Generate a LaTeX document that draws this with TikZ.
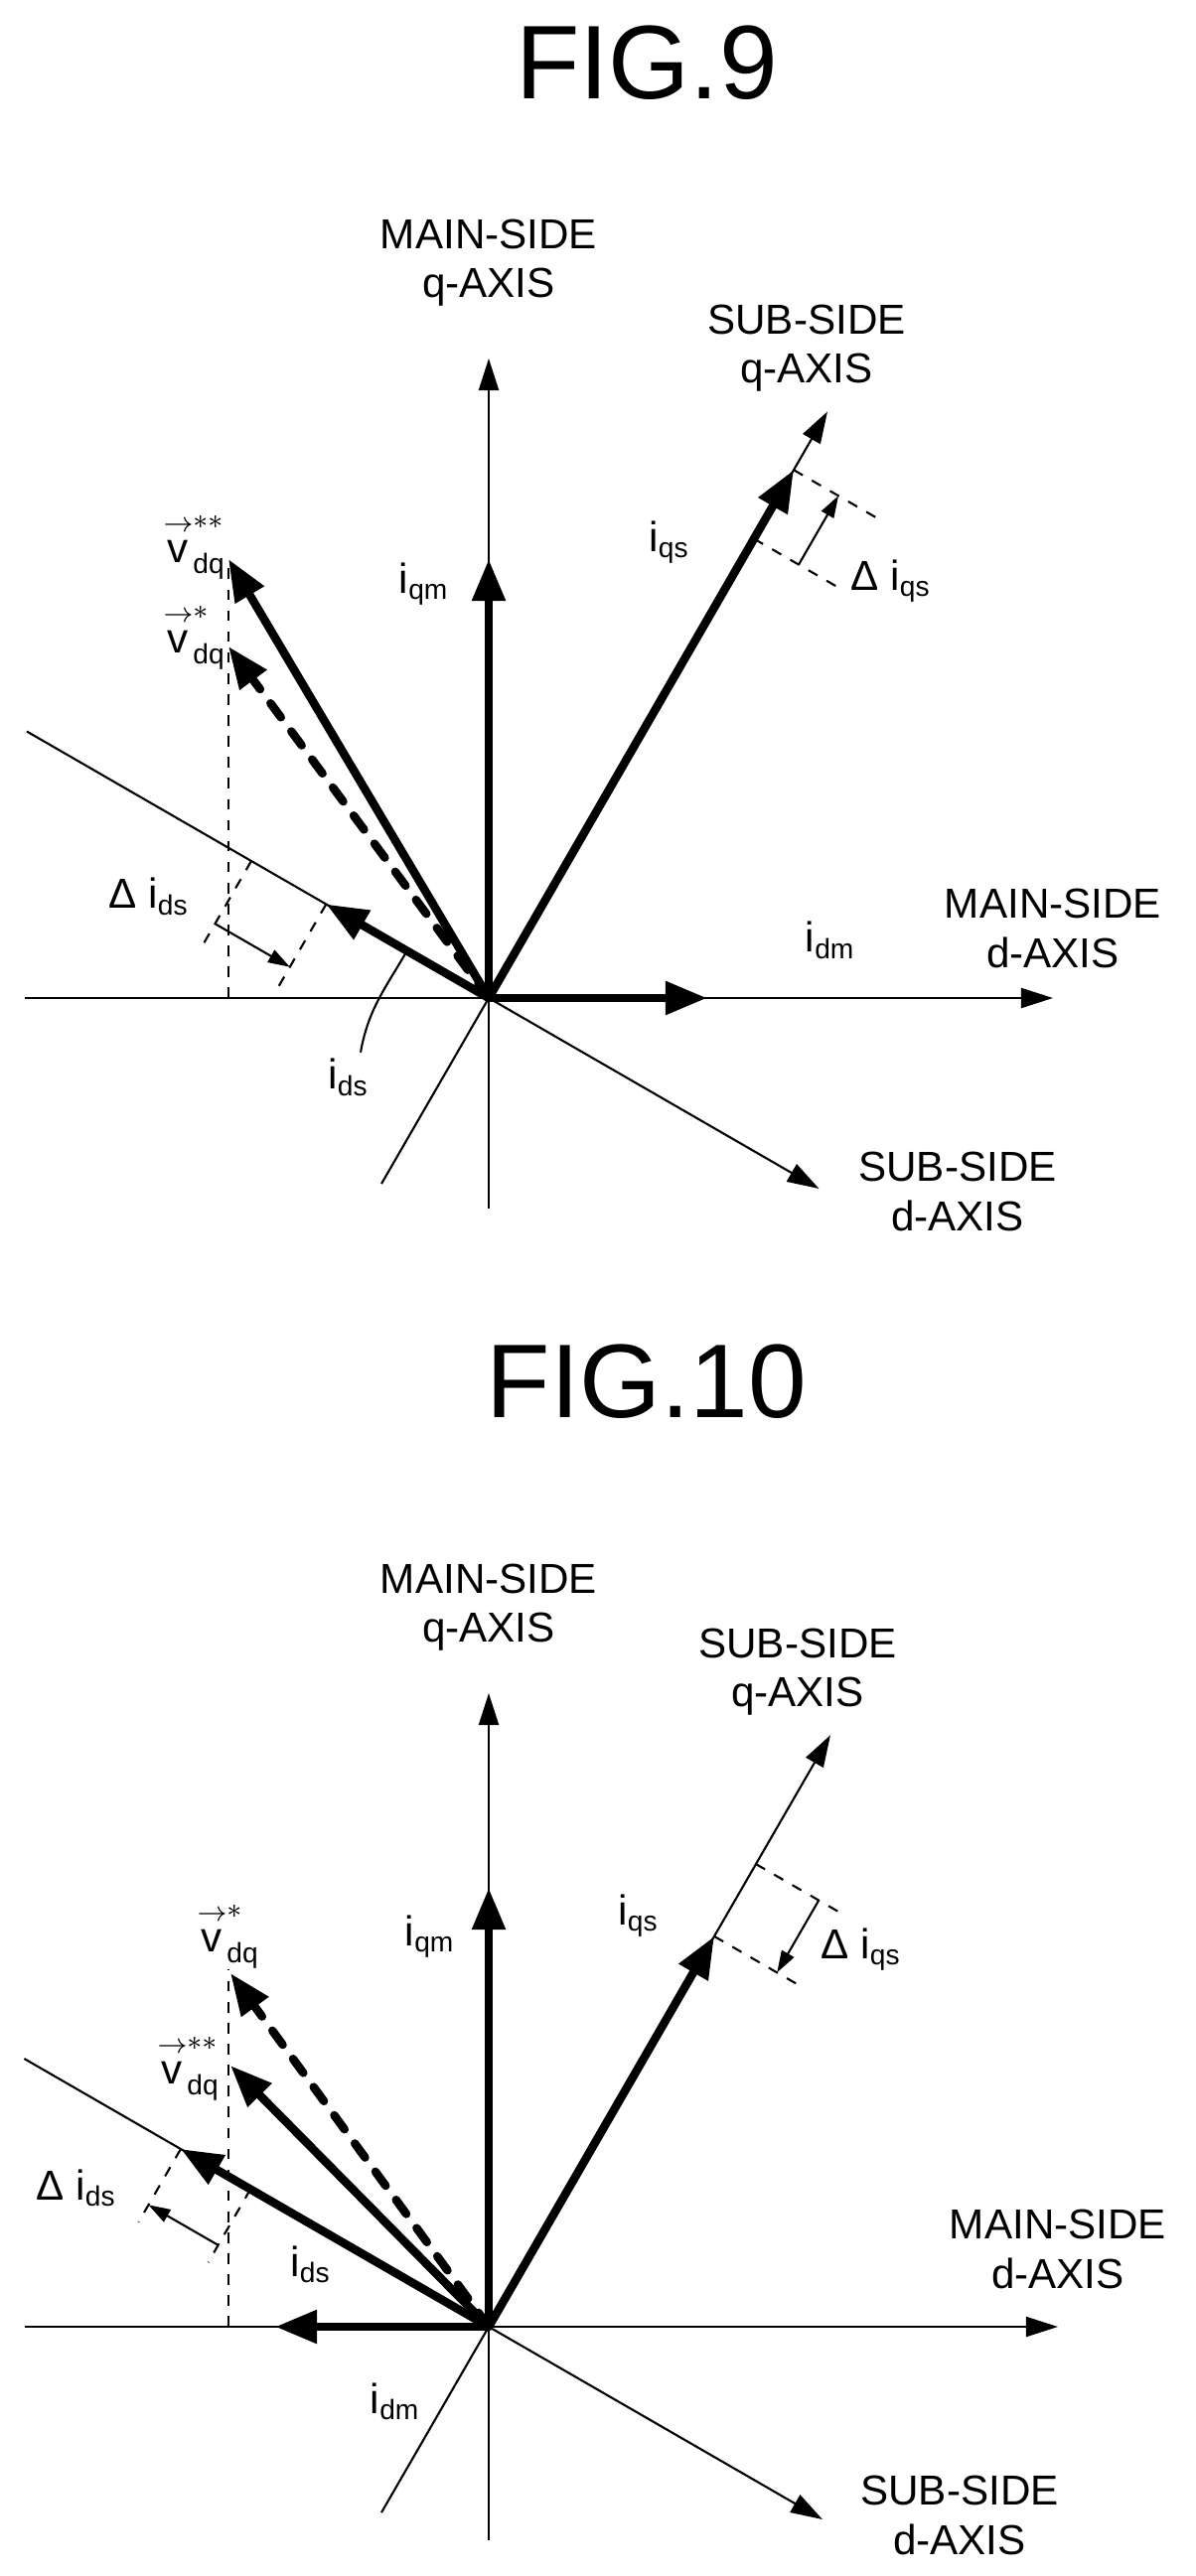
\documentclass[tikz,border=0pt]{standalone}
\usepackage{amsmath}
\usepackage{fontspec}
\setmainfont{Liberation Sans}
\usetikzlibrary{arrows.meta, positioning, calc}
\tikzstyle{axis} = [line width=0.6pt, -{Triangle[length=0.32cm, width=0.2cm]}]
\tikzstyle{plain} = [line width=0.6pt]
\tikzstyle{vec} = [line width=2.4pt, -{Triangle[length=0.42cm, width=0.32cm]}]
\tikzstyle{dvec} = [vec, dash pattern=on 5pt off 5pt, line cap=round]
\tikzstyle{guide} = [line width=0.6pt, dashed]
\tikzstyle{delta} = [line width=0.6pt, -{Triangle[length=0.22cm, width=0.14cm]}]
\tikzstyle{lbl} = [font=\fontsize{12}{14}\selectfont, align=center, inner sep=0pt]
\tikzstyle{title} = [font=\fontsize{30}{34}\selectfont, inner sep=0pt]
\newcommand{\vecv}{\ensuremath{\overset{\rightarrow}{\text{v}}}}
\begin{document}
\begin{tikzpicture}[x=0.01cm, y=0.01cm]
    \useasboundingbox (0,0) rectangle (1204,-2594);

    % FIG.9
    \node (fig9) [title] at (651,-63) {FIG.9};
    \begin{scope}[shift={(492,-1005)}]
    \coordinate (O) at (0,0);
    \coordinate (dml) at (-467,0);
    \coordinate (dmr) at (568,0);
    \coordinate (qmb) at (0,-212);
    \coordinate (qmt) at (0,644);
    \coordinate (qsb) at (240:216);
    \coordinate (qst) at (60:682);
    \coordinate (dsl) at (150:537);
    \coordinate (dsr) at (-30:384);
    \draw [plain] (dml) -- (O);
    \draw [axis] (O) -- (dmr);
    \draw [plain] (qmb) -- (O);
    \draw [axis] (O) -- (qmt);
    \draw [plain] (qsb) -- (O);
    \draw [axis] (O) -- (qst);
    \draw [plain] (dsl) -- (O);
    \draw [axis] (O) -- (dsr);

    \coordinate (iqm) at (0,442);
    \coordinate (idm) at (220,0);
    \coordinate (iqs) at (60:614);
    \coordinate (ids) at (150:189);
    \coordinate (vss) at (-262,442);
    \coordinate (vs) at (-262,354);
    \coordinate (vb) at (-262,0);
    \draw [guide] (vb) -- (vss);
    \draw [vec] (O) -- (iqm);
    \draw [vec] (O) -- (idm);
    \draw [vec] (O) -- (iqs);
    \draw [vec] (O) -- (ids);
    \draw [vec] (O) -- (vss);
    \draw [dvec] (O) -- (vs);

    % delta iqs
    \coordinate (qa) at (60:534);
    \coordinate (qae) at ($(qa)+(-30:98)$);
    \coordinate (qbe) at ($(iqs)+(-30:98)$);
    \draw [guide] (qa) -- (qae);
    \draw [guide] (iqs) -- (qbe);
    \draw [delta] ($(qa)+(-30:52)$) -- ($(iqs)+(-30:52)$);
    % delta ids
    \coordinate (da) at (150:276);
    \draw [guide] (da) -- ($(da)+(240:95)$);
    \draw [guide] (ids) -- ($(ids)+(240:95)$);
    \draw [delta] ($(da)+(240:73)$) -- ($(ids)+(240:73)$);

    \node (qml) [lbl] at (0,740) {MAIN-SIDE\\q-AXIS};
    \node (qsl) [lbl] at (320,654) {SUB-SIDE\\q-AXIS};
    \node (dml) [lbl] at (568,70) {MAIN-SIDE\\d-AXIS};
    \node (dsl) [lbl] at (472,-195) {SUB-SIDE\\d-AXIS};
    \node (iqmL) [lbl] at (-65,417) {i\textsubscript{qm}};
    \node (iqsL) [lbl] at (182,459) {i\textsubscript{qs}};
    \node (idmL) [lbl] at (344,58) {i\textsubscript{dm}};
    \node (idsL) [lbl] at (-141,-80) {i\textsubscript{ds}};
    \node (vssL) [lbl] at (-296,454) {$\vecv^{**}_{\text{dq}}$};
    \node (vsL) [lbl] at (-296,363) {$\vecv^{*}_{\text{dq}}$};
    \node (dqsL) [lbl] at (405,420) {Δ i\textsubscript{qs}};
    \node (ddsL) [lbl] at (-342,102) {Δ i\textsubscript{ds}};
    \coordinate (lead) at ($(idsL.north)+(12,6)$);
    \draw [plain] (lead) to[out=80, in=240] (150:95);
    \end{scope}

    % FIG.10
    \node (fig10) [title] at (651,-1391) {FIG.10};
    \begin{scope}[shift={(492,-2343)}]
    \coordinate (O) at (0,0);
    \coordinate (dml) at (-467,0);
    \coordinate (dmr) at (573,0);
    \coordinate (qmb) at (0,-215);
    \coordinate (qmt) at (0,638);
    \coordinate (qsb) at (240:216);
    \coordinate (qst) at (60:688);
    \coordinate (dsl) at (150:540);
    \coordinate (dsr) at (-30:388);
    \draw [plain] (dml) -- (O);
    \draw [axis] (O) -- (dmr);
    \draw [plain] (qmb) -- (O);
    \draw [axis] (O) -- (qmt);
    \draw [plain] (qsb) -- (O);
    \draw [axis] (O) -- (qst);
    \draw [plain] (dsl) -- (O);
    \draw [axis] (O) -- (dsr);

    \coordinate (iqm) at (0,442);
    \coordinate (idm) at (-215,0);
    \coordinate (iqs) at (60:454);
    \coordinate (ids) at (150:358);
    \coordinate (vss) at (-260,263);
    \coordinate (vs) at (-260,356);
    \coordinate (vb) at (-262,0);
    \coordinate (vt) at (-262,360);
    \draw [guide] (vb) -- (vt);
    \draw [vec] (O) -- (iqm);
    \draw [vec] (O) -- (idm);
    \draw [vec] (O) -- (iqs);
    \draw [vec] (O) -- (ids);
    \draw [vec] (O) -- (vss);
    \draw [dvec] (O) -- (vs);

    % delta iqs
    \coordinate (qa) at (60:538);
    \draw [guide] (qa) -- ($(qa)+(-30:95)$);
    \draw [guide] (iqs) -- ($(iqs)+(-30:95)$);
    \draw [delta] ($(qa)+(-30:73)$) -- ($(iqs)+(-30:73)$);
    % delta ids
    \coordinate (da) at (150:277);
    \draw [guide] (da) -- ($(da)+(240:85)$);
    \draw [guide] (ids) -- ($(ids)+(240:85)$);
    \draw [delta] ($(da)+(240:65)$) -- ($(ids)+(240:65)$);

    \node (qml) [lbl] at (0,724) {MAIN-SIDE\\q-AXIS};
    \node (qsl) [lbl] at (311,659) {SUB-SIDE\\q-AXIS};
    \node (dml) [lbl] at (573,78) {MAIN-SIDE\\d-AXIS};
    \node (dsl) [lbl] at (474,-190) {SUB-SIDE\\d-AXIS};
    \node (iqmL) [lbl] at (-59,393) {i\textsubscript{qm}};
    \node (iqsL) [lbl] at (151,414) {i\textsubscript{qs}};
    \node (idmL) [lbl] at (-94,-75) {i\textsubscript{dm}};
    \node (idsL) [lbl] at (-179,63) {i\textsubscript{ds}};
    \node (vsL) [lbl] at (-262,393) {$\vecv^{*}_{\text{dq}}$};
    \node (vssL) [lbl] at (-302,260) {$\vecv^{**}_{\text{dq}}$};
    \node (dqsL) [lbl] at (375,380) {Δ i\textsubscript{qs}};
    \node (ddsL) [lbl] at (-415,140) {Δ i\textsubscript{ds}};
    \end{scope}
\end{tikzpicture}
\end{document}
